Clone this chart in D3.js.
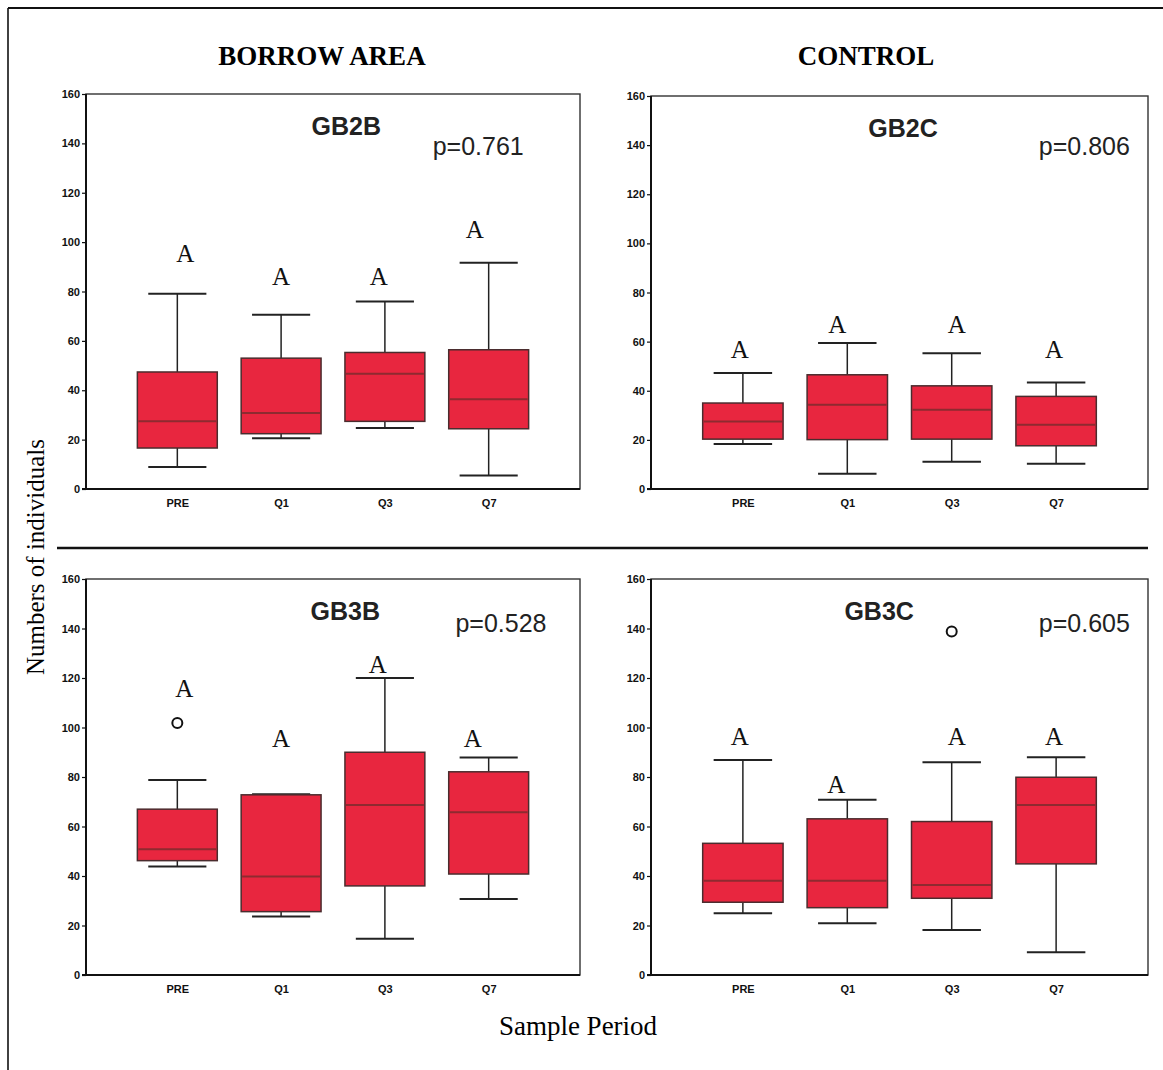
<!DOCTYPE html>
<html>
<head>
<meta charset="utf-8">
<script src="https://cdn.jsdelivr.net/npm/d3@7"></script>
<style>
  html, body { margin: 0; padding: 0; background: #fff; }
  svg { display: block; }
</style>
</head>
<body>
<svg id="fig" width="1163" height="1070"></svg>
<script>
// Sample periods on the x axis and the shared y ticks
const periods = ["PRE", "Q1", "Q3", "Q7"];
const yTicks = [0, 20, 40, 60, 80, 100, 120, 140, 160];

// Box statistics per period: [lower whisker, Q1, median, Q3, upper whisker]
const gb2b = [[8.9, 16.6, 27.4, 47.4, 79.1], [20.6, 22.4, 30.8, 53.0, 70.6], [24.7, 27.4, 46.7, 55.3, 76.0], [5.5, 24.4, 36.4, 56.4, 91.6]];
const gb2c = [[18.3, 20.3, 27.5, 35.0, 47.2], [6.2, 20.1, 34.3, 46.5, 59.4], [11.1, 20.3, 32.3, 42.0, 55.3], [10.3, 17.6, 26.2, 37.7, 43.4]];
const gb3b = [[43.8, 46.2, 50.8, 67.0, 78.8], [23.6, 25.6, 39.8, 72.8, 73.0], [14.6, 36.0, 68.7, 90.0, 120.0], [30.7, 40.8, 65.8, 82.1, 87.9]];
const gb3c = [[24.9, 29.4, 38.1, 53.2, 86.9], [20.9, 27.2, 38.1, 63.1, 70.8], [18.2, 31.0, 36.4, 62.0, 86.0], [9.2, 44.9, 68.7, 79.9, 88.0]];

// Outlying observations: [period, value]
const gb3bOutliers = [["PRE", 101.8]];
const gb3cOutliers = [["Q3", 138.8]];

// Significance group letters for each period
const gb2bGroups = ["A", "A", "A", "A"];
const gb2cGroups = ["A", "A", "A", "A"];
const gb3bGroups = ["A", "A", "A", "A"];
const gb3cGroups = ["A", "A", "A", "A"];

// Kruskal-Wallis p-values
const pValues = { GB2B: "0.761", GB2C: "0.806", GB3B: "0.528", GB3C: "0.605" };

// ---- layout ----
const panels = [
  { name: "GB2B", stats: gb2b, outliers: [], groups: gb2bGroups,
    box: { l: 86, r: 580, t: 94, b: 489 },
    letterY: [92, 82.5, 82.5, 101.6], letterDx: [8, 0, -6, -14],
    titleX: 0.527, pX: 0.794, pDy: 61 },
  { name: "GB2C", stats: gb2c, outliers: [], groups: gb2cGroups,
    box: { l: 651, r: 1148, t: 96, b: 489 },
    letterY: [53.3, 63.5, 63.5, 53.3], letterDx: [-3, -10, 5, -2],
    titleX: 0.507, pX: 0.872, pDy: 59 },
  { name: "GB3B", stats: gb3b, outliers: gb3bOutliers, groups: gb3bGroups,
    box: { l: 86, r: 580, t: 579, b: 975 },
    letterY: [112.5, 92.3, 122, 92.3], letterDx: [7, 0, -7, -16],
    titleX: 0.525, pX: 0.84, pDy: 53 },
  { name: "GB3C", stats: gb3c, outliers: gb3cOutliers, groups: gb3cGroups,
    box: { l: 651, r: 1148, t: 579, b: 975 },
    letterY: [93, 73.5, 93, 93], letterDx: [-3, -11, 5, -2],
    titleX: 0.459, pX: 0.872, pDy: 53 }
];

const svg = d3.select("#fig");
const boxFill = "#e8263f";
const boxEdge = "#4a2c2e";
const medianColor = "#8e2a30";

// figure border (left and top edges of the scanned frame)
svg.append("line").attr("x1", 8).attr("y1", 8).attr("x2", 1163).attr("y2", 8)
  .attr("stroke", "#111").attr("stroke-width", 2.2);
svg.append("line").attr("x1", 8).attr("y1", 8).attr("x2", 8).attr("y2", 1070)
  .attr("stroke", "#111").attr("stroke-width", 1.6);

// divider between the two rows of panels
svg.append("line").attr("x1", 57).attr("y1", 548).attr("x2", 1148).attr("y2", 548)
  .attr("stroke", "#111").attr("stroke-width", 2.6);

// column headings and shared axis titles
const serif = "'Liberation Serif', 'Times New Roman', serif";
const sans = "'Liberation Sans', Arial, sans-serif";
svg.append("text").attr("x", 322).attr("y", 65).attr("text-anchor", "middle")
  .style("font-family", serif).style("font-weight", "bold").style("font-size", "27px")
  .text("BORROW AREA");
svg.append("text").attr("x", 866).attr("y", 65).attr("text-anchor", "middle")
  .style("font-family", serif).style("font-weight", "bold").style("font-size", "27px")
  .text("CONTROL");
svg.append("text").attr("transform", "translate(44,557) rotate(-90)").attr("text-anchor", "middle")
  .style("font-family", serif).style("font-size", "25px")
  .text("Numbers of individuals");
svg.append("text").attr("x", 578).attr("y", 1035).attr("text-anchor", "middle")
  .style("font-family", serif).style("font-size", "27px")
  .text("Sample Period");

panels.forEach(p => {
  const { l, r, t, b } = p.box;
  const x = d3.scalePoint().domain(periods).range([l, r]).padding(0.88);
  const y = d3.scaleLinear().domain([0, 160]).range([b, t]);
  const step = x.step();
  const bw = step * 0.77, cw = step * 0.56;
  const g = svg.append("g");

  // plot frame
  g.append("rect").attr("x", l).attr("y", t).attr("width", r - l).attr("height", b - t)
    .attr("fill", "none").attr("stroke", "#333").attr("stroke-width", 1.4);

  // y axis
  const ya = g.append("g").attr("transform", `translate(${l},0)`)
    .call(d3.axisLeft(y).tickValues(yTicks).tickSize(4).tickPadding(2));
  ya.select(".domain").remove();
  ya.selectAll(".tick line").attr("stroke", "#111").attr("stroke-width", 1.2);
  ya.selectAll(".tick text").style("font-family", sans).style("font-weight", "bold")
    .style("font-size", "11px").attr("fill", "#111");

  // x axis labels
  const xa = g.append("g").attr("transform", `translate(0,${b})`)
    .call(d3.axisBottom(x).tickSize(0).tickPadding(10));
  xa.select(".domain").remove();
  xa.selectAll(".tick text").style("font-family", sans).style("font-weight", "bold")
    .style("font-size", "11px").attr("fill", "#111");

  // axis lines
  g.append("line").attr("x1", l).attr("x2", l).attr("y1", t).attr("y2", b)
    .attr("stroke", "#111").attr("stroke-width", 2);
  g.append("line").attr("x1", l - 4).attr("x2", r).attr("y1", b).attr("y2", b)
    .attr("stroke", "#111").attr("stroke-width", 2);

  // boxes
  const rows = periods.map((k, i) => ({ k, i, s: p.stats[i] }));
  const bx = g.selectAll(".bx").data(rows).enter().append("g");
  // whiskers
  bx.append("line").attr("x1", d => x(d.k)).attr("x2", d => x(d.k))
    .attr("y1", d => y(d.s[0])).attr("y2", d => y(d.s[1]))
    .attr("stroke", "#222").attr("stroke-width", 1.5);
  bx.append("line").attr("x1", d => x(d.k)).attr("x2", d => x(d.k))
    .attr("y1", d => y(d.s[3])).attr("y2", d => y(d.s[4]))
    .attr("stroke", "#222").attr("stroke-width", 1.5);
  // caps
  bx.append("line").attr("x1", d => x(d.k) - cw / 2).attr("x2", d => x(d.k) + cw / 2)
    .attr("y1", d => y(d.s[0])).attr("y2", d => y(d.s[0]))
    .attr("stroke", "#222").attr("stroke-width", 2);
  bx.append("line").attr("x1", d => x(d.k) - cw / 2).attr("x2", d => x(d.k) + cw / 2)
    .attr("y1", d => y(d.s[4])).attr("y2", d => y(d.s[4]))
    .attr("stroke", "#222").attr("stroke-width", 2);
  // interquartile box
  bx.append("rect").attr("x", d => x(d.k) - bw / 2).attr("width", bw)
    .attr("y", d => y(d.s[3])).attr("height", d => y(d.s[1]) - y(d.s[3]))
    .attr("fill", boxFill).attr("stroke", boxEdge).attr("stroke-width", 1.5);
  // median
  bx.append("line").attr("x1", d => x(d.k) - bw / 2 + 1).attr("x2", d => x(d.k) + bw / 2 - 1)
    .attr("y1", d => y(d.s[2])).attr("y2", d => y(d.s[2]))
    .attr("stroke", medianColor).attr("stroke-width", 2);

  // outliers
  g.selectAll(".out").data(p.outliers).enter().append("circle")
    .attr("cx", d => x(d[0])).attr("cy", d => y(d[1])).attr("r", 5)
    .attr("fill", "#fff").attr("stroke", "#111").attr("stroke-width", 2);

  // group letters
  g.selectAll(".grp").data(rows).enter().append("text")
    .attr("x", d => x(d.k) + p.letterDx[d.i]).attr("y", d => y(p.letterY[d.i]))
    .attr("text-anchor", "middle")
    .style("font-family", serif).style("font-size", "25px").attr("fill", "#111")
    .text(d => p.groups[d.i]);

  // panel title and p-value
  g.append("text").attr("x", l + (r - l) * p.titleX).attr("y", t + 41)
    .attr("text-anchor", "middle").style("font-family", sans).style("font-weight", "bold")
    .style("font-size", "25px").attr("fill", "#222").text(p.name);
  g.append("text").attr("x", l + (r - l) * p.pX).attr("y", t + p.pDy)
    .attr("text-anchor", "middle").style("font-family", sans)
    .style("font-size", "25px").attr("fill", "#222").text("p=" + pValues[p.name]);
});
</script>
</body>
</html>
